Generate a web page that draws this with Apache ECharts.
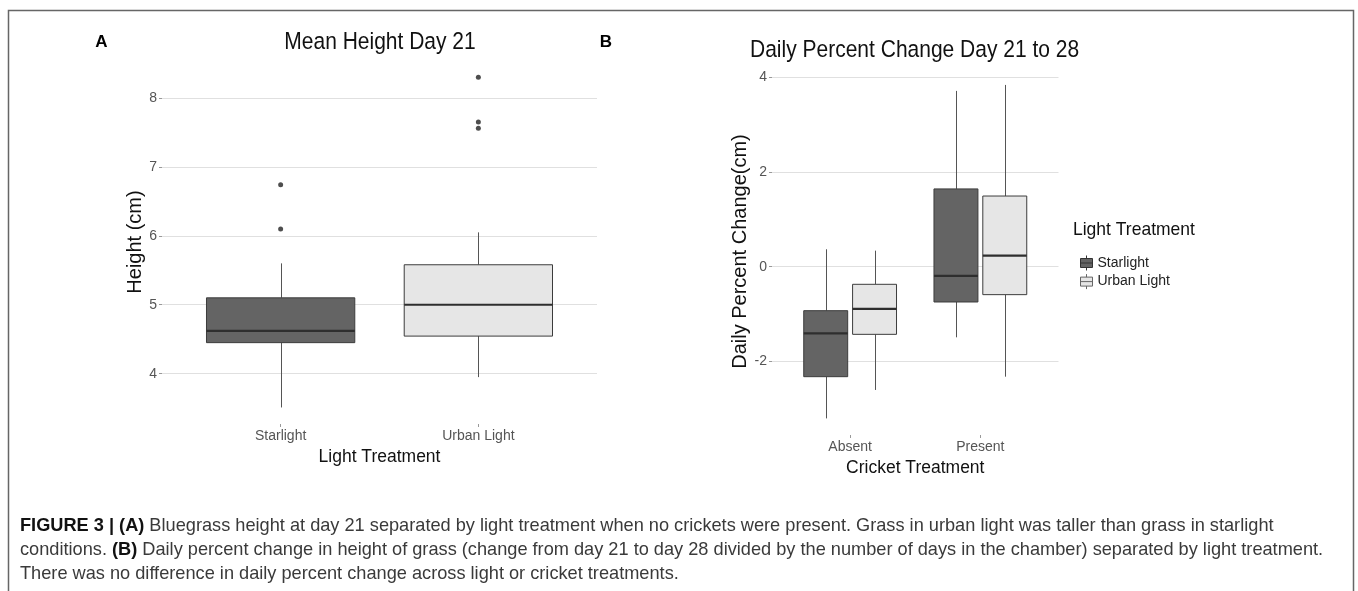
<!DOCTYPE html>
<html>
<head>
<meta charset="utf-8">
<script src="https://cdn.jsdelivr.net/npm/echarts@6/dist/echarts.min.js"></script>
<style>
html,body{margin:0;padding:0;background:#fff;}
#chart{width:1358px;height:591px;}
</style>
</head>
<body>
<div id="chart"></div>
<script>
// ---------- data ----------
const lightCategories = ['Starlight', 'Urban Light'];
// [lower whisker, Q1, median, Q3, upper whisker]
const heightStarlight = [3.51, 4.45, 4.62, 5.10, 5.60];
const heightUrban = [3.95, 4.545, 5.00, 5.58, 6.05];
const outliersStarlight = [6.10, 6.74];
const outliersUrban = [7.56, 7.65, 8.30];
const heightTicks = [4, 5, 6, 7, 8];

const cricketCategories = ['Absent', 'Present'];
const changeStarlight = [
  [-3.20, -2.32, -1.405, -0.928, 0.367],
  [-1.49, -0.745, -0.196, 1.64, 3.707]
];
const changeUrban = [
  [-2.60, -1.427, -0.892, -0.372, 0.338],
  [-2.32, -0.59, 0.232, 1.49, 3.833]
];
const changeTicks = [-2, 0, 2, 4];

// ---------- styles ----------
const FONT = '"Liberation Sans", Arial, Helvetica, sans-serif';
const DARK_FILL = '#646464';
const LIGHT_FILL = '#e6e6e6';
const BOX_STROKE = '#3c3c3c';
const WHISKER = '#555555';
const MEDIAN = '#2e2e2e';
const KEY_ICON = 'path://M0,3 L12,3 L12,12 L0,12 Z M6,0 L6,3 M6,12 L6,15 M0,7.5 L12,7.5';

function boxRenderer(offset, widthUnits, fillFor) {
  return function (params, api) {
    const x = api.value(0) + offset;
    const lo = api.coord([x, api.value(1)]);
    const q1 = api.coord([x, api.value(2)]);
    const md = api.coord([x, api.value(3)]);
    const q3 = api.coord([x, api.value(4)]);
    const hi = api.coord([x, api.value(5)]);
    const half = api.size([widthUnits, 0])[0] / 2;
    const cx = Math.round(md[0]) + 0.5;
    return {
      type: 'group',
      children: [
        {type: 'line', shape: {x1: cx, y1: hi[1], x2: cx, y2: q3[1]}, style: {stroke: WHISKER, lineWidth: 1}},
        {type: 'line', shape: {x1: cx, y1: q1[1], x2: cx, y2: lo[1]}, style: {stroke: WHISKER, lineWidth: 1}},
        {type: 'rect', shape: {x: md[0] - half, y: q3[1], width: half * 2, height: q1[1] - q3[1]},
          style: {fill: fillFor(params.dataIndex), stroke: BOX_STROKE, lineWidth: 1}},
        {type: 'line', shape: {x1: md[0] - half, y1: md[1], x2: md[0] + half, y2: md[1]},
          style: {stroke: MEDIAN, lineWidth: 2.2}}
      ]
    };
  };
}

const heightBoxData = [heightStarlight, heightUrban].map((b, i) => [i + 1].concat(b));
const heightOutlierData = [];
outliersStarlight.forEach(v => heightOutlierData.push([1, v]));
outliersUrban.forEach(v => heightOutlierData.push([2, v]));
const changeStarData = changeStarlight.map((b, i) => [i + 1].concat(b));
const changeUrbanData = changeUrban.map((b, i) => [i + 1].concat(b));

function xAxisFor(gridIndex, cats, name) {
  return {
    type: 'value', gridIndex: gridIndex, min: 0.4, max: 2.6,
    name: name, nameLocation: 'middle', nameGap: 22,
    nameTextStyle: {fontSize: 17.5, color: '#111', fontFamily: FONT},
    axisLine: {show: false, onZero: false},
    axisTick: {show: true, length: 3, lineStyle: {color: '#999'}, customValues: [1, 2]},
    axisLabel: {show: true, customValues: [1, 2], margin: 5, fontSize: 14, color: '#555', fontFamily: FONT,
      formatter: v => cats[Math.round(v) - 1] || ''},
    splitLine: {show: false}
  };
}
function yAxisFor(gridIndex, min, max, ticks, name, gap) {
  return {
    type: 'value', gridIndex: gridIndex, min: min, max: max,
    name: name, nameLocation: 'middle', nameGap: gap,
    nameTextStyle: {fontSize: 20, color: '#111', fontFamily: FONT},
    axisLine: {show: false, onZero: false},
    axisTick: {show: true, length: 3, lineStyle: {color: '#999'}, customValues: ticks},
    axisLabel: {show: true, customValues: ticks, margin: 5, fontSize: 14, color: '#555', fontFamily: FONT},
    splitLine: {show: true, lineStyle: {color: '#e0e0e0', width: 1}}
  };
}

const chart = echarts.init(document.getElementById('chart'), null, {renderer: 'canvas'});
const option = {
  backgroundColor: '#ffffff',
  animation: false,
  textStyle: {fontFamily: FONT},
  grid: [
    {left: 162, top: 60, width: 435, height: 364, containLabel: false, outerBoundsMode: 'none'},
    {left: 772, top: 68, width: 286.5, height: 367, containLabel: false, outerBoundsMode: 'none'}
  ],
  xAxis: [
    xAxisFor(0, lightCategories, 'Light Treatment'),
    xAxisFor(1, cricketCategories, 'Cricket Treatment')
  ],
  yAxis: [
    yAxisFor(0, 3.27, 8.55, heightTicks, 'Height (cm)', 13),
    yAxisFor(1, -3.55, 4.19, changeTicks, 'Daily Percent Change(cm)', 14)
  ],
  legend: {
    show: true, orient: 'vertical', left: 1075, top: 250,
    itemWidth: 12, itemHeight: 15, itemGap: 2.6,
    textStyle: {fontSize: 14, color: '#222', fontFamily: FONT},
    selectedMode: false,
    data: [
      {name: 'Starlight', icon: KEY_ICON,
        itemStyle: {color: DARK_FILL, borderColor: '#333', borderWidth: 1}},
      {name: 'Urban Light', icon: KEY_ICON,
        itemStyle: {color: LIGHT_FILL, borderColor: '#666', borderWidth: 1}}
    ]
  },
  series: [
    {
      type: 'custom', name: 'Height', xAxisIndex: 0, yAxisIndex: 0,
      encode: {x: 0, y: [1, 2, 3, 4, 5]},
      renderItem: boxRenderer(0, 0.75, i => (i === 0 ? DARK_FILL : LIGHT_FILL)),
      data: heightBoxData, clip: false, z: 2
    },
    {
      type: 'scatter', name: 'Outliers', xAxisIndex: 0, yAxisIndex: 0,
      symbolSize: 5, itemStyle: {color: '#222'}, data: heightOutlierData, z: 3
    },
    {
      type: 'custom', name: 'Starlight', xAxisIndex: 1, yAxisIndex: 1,
      encode: {x: 0, y: [1, 2, 3, 4, 5]},
      itemStyle: {color: DARK_FILL},
      renderItem: boxRenderer(-0.1875, 0.3375, () => DARK_FILL),
      data: changeStarData, clip: false, z: 2
    },
    {
      type: 'custom', name: 'Urban Light', xAxisIndex: 1, yAxisIndex: 1,
      encode: {x: 0, y: [1, 2, 3, 4, 5]},
      itemStyle: {color: LIGHT_FILL},
      renderItem: boxRenderer(0.1875, 0.3375, () => LIGHT_FILL),
      data: changeUrbanData, clip: false, z: 2
    }
  ],
  graphic: [
    {type: 'polyline', shape: {points: [[8.5, 591], [8.5, 10.5], [1353.5, 10.5], [1353.5, 591]]},
      style: {stroke: '#666', lineWidth: 1.5, fill: null}, silent: true},
    {type: 'text', x: 101.5, y: 42.5, style: {text: 'A', font: 'bold 17px ' + FONT, fill: '#000', align: 'center', verticalAlign: 'middle'}},
    {type: 'text', x: 606, y: 42, style: {text: 'B', font: 'bold 17px ' + FONT, fill: '#000', align: 'center', verticalAlign: 'middle'}},
    {type: 'text', x: 380, y: 42, scaleY: 1.15, style: {text: 'Mean Height Day 21', font: '21px ' + FONT, fill: '#111', align: 'center', verticalAlign: 'middle'}},
    {type: 'text', x: 750, y: 50, scaleY: 1.15, style: {text: 'Daily Percent Change Day 21 to 28', font: '21px ' + FONT, fill: '#111', align: 'left', verticalAlign: 'middle'}},
    {type: 'text', x: 1073, y: 230, scaleY: 1.1, style: {text: 'Light Treatment', font: '17.5px ' + FONT, fill: '#111', align: 'left', verticalAlign: 'middle'}},
    {type: 'text', x: 20, y: 526, style: {
      text: '{b|FIGURE 3 | (A)} Bluegrass height at day 21 separated by light treatment when no crickets were present. Grass in urban light was taller than grass in starlight',
      font: '18.2px ' + FONT, fill: '#3a3a3a', align: 'left', verticalAlign: 'middle',
      rich: {b: {fontWeight: 'bold', fontSize: 18.2, fill: '#111', fontFamily: FONT}}}},
    {type: 'text', x: 20, y: 550, style: {
      text: 'conditions. {b|(B)} Daily percent change in height of grass (change from day 21 to day 28 divided by the number of days in the chamber) separated by light treatment.',
      font: '18.2px ' + FONT, fill: '#3a3a3a', align: 'left', verticalAlign: 'middle',
      rich: {b: {fontWeight: 'bold', fontSize: 18.2, fill: '#111', fontFamily: FONT}}}},
    {type: 'text', x: 20, y: 574, style: {
      text: 'There was no difference in daily percent change across light or cricket treatments.',
      font: '18.2px ' + FONT, fill: '#3a3a3a', align: 'left', verticalAlign: 'middle'}}
  ]
};
chart.setOption(option);
</script>
</body>
</html>
